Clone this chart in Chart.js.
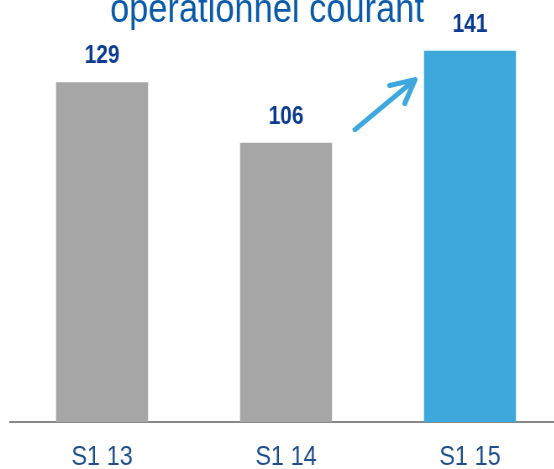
<!DOCTYPE html>
<html>
<head>
<meta charset="utf-8">
<script src="https://cdn.jsdelivr.net/npm/chart.js@4.4.1/dist/chart.umd.min.js"></script>
<style>
  html, body { margin: 0; padding: 0; overflow: hidden; background: #ffffff; }
  #wrap { position: relative; width: 669px; height: 469px; transform: scaleX(0.84); transform-origin: 0 0; }
</style>
</head>
<body>
<div id="wrap"><canvas id="c"></canvas></div>
<script>
const categories = ["S1 13", "S1 14", "S1 15"];
const values = [129, 106, 141];
const barColors = ["#A6A6A6", "#A6A6A6", "#3EA8DC"];
const titleText = "opérationnel courant";
const SQ = 0.84; // horizontal compression of the whole picture

const titlePlugin = {
  id: "topTitle",
  afterDraw(chart) {
    const ctx = chart.ctx;
    ctx.save();
    ctx.fillStyle = "#0B5AA8";
    ctx.font = "41px 'Liberation Sans', Arial, sans-serif";
    ctx.textAlign = "center";
    ctx.textBaseline = "alphabetic";
    ctx.fillText(titleText, 267 / SQ, 22);
    ctx.restore();
  }
};

const valueLabels = {
  id: "valueLabels",
  afterDatasetsDraw(chart) {
    const ctx = chart.ctx;
    const meta = chart.getDatasetMeta(0);
    ctx.save();
    ctx.fillStyle = "#0C3B8E";
    ctx.font = "bold 25px 'Liberation Sans', Arial, sans-serif";
    ctx.textAlign = "center";
    ctx.textBaseline = "alphabetic";
    meta.data.forEach((bar, i) => {
      ctx.fillText(String(values[i]), bar.x, bar.y - 19);
    });
    ctx.restore();
  }
};

const arrowPlugin = {
  id: "arrow",
  afterDatasetsDraw(chart) {
    const ctx = chart.ctx;
    const xs = chart.scales.x, ys = chart.scales.y;
    const xLast = xs.getPixelForValue(2) * SQ;
    const x0 = xLast - 115, y0 = ys.getPixelForValue(111);
    const x1 = xLast - 55, y1 = ys.getPixelForValue(130);
    const ang = Math.atan2(y0 - y1, x0 - x1);
    const headLen = 26, spread = 27 * Math.PI / 180;
    ctx.save();
    ctx.scale(1 / SQ, 1);
    ctx.strokeStyle = "#3EA8DC";
    ctx.lineWidth = 5;
    ctx.lineCap = "round";
    ctx.lineJoin = "round";
    ctx.beginPath();
    ctx.moveTo(x0, y0);
    ctx.lineTo(x1, y1);
    ctx.moveTo(x1 + headLen * Math.cos(ang - spread), y1 + headLen * Math.sin(ang - spread));
    ctx.lineTo(x1, y1);
    ctx.lineTo(x1 + headLen * Math.cos(ang + spread), y1 + headLen * Math.sin(ang + spread));
    ctx.stroke();
    ctx.restore();
  }
};

new Chart(document.getElementById("c"), {
  type: "bar",
  data: {
    labels: categories,
    datasets: [{
      data: values,
      backgroundColor: barColors,
      borderWidth: 0,
      barPercentage: 1.0,
      categoryPercentage: 0.5
    }]
  },
  options: {
    responsive: true,
    maintainAspectRatio: false,
    animation: false,
    layout: { padding: { left: 12, right: 0, top: 27, bottom: 0 } },
    plugins: {
      legend: { display: false },
      title: { display: false },
      tooltip: { enabled: false }
    },
    scales: {
      x: {
        grid: { display: false },
        border: { display: true, color: "#888888", width: 2 },
        ticks: {
          color: "#1F4E8C",
          font: { family: "'Liberation Sans', Arial, sans-serif", size: 28 },
          padding: 10
        },
        afterFit(scale) { scale.height = 47; }
      },
      y: {
        display: false,
        min: 0,
        max: 150
      }
    }
  },
  plugins: [titlePlugin, valueLabels, arrowPlugin]
});
</script>
</body>
</html>
